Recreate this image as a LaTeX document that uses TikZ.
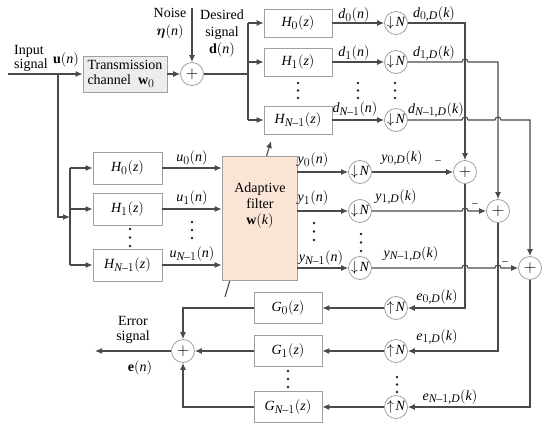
\documentclass[tikz,border=0pt]{standalone}
\usepackage{amsmath}
\usepackage{fontspec}
\setmainfont{Liberation Serif}
\usepackage[italic]{mathastext}
\usetikzlibrary{arrows.meta,calc}
\definecolor{linec}{HTML}{4A4A4A}
\definecolor{boxc}{HTML}{A0A0A0}
\definecolor{peach}{HTML}{FBE4D5}
\definecolor{grayf}{HTML}{EDEDED}
\newcommand{\threedots}[3]{\fill[black!85] (#1,#2) circle (1.4) (#1,{#2+#3}) circle (1.4) (#1,{#2+2*#3}) circle (1.4);}
\begin{document}
\begin{tikzpicture}[x=1pt,y=-1pt,
 every node/.style={font=\fontsize{14}{16}\selectfont, text=black},
 conn/.style={draw=linec,line width=1.1pt},
 arr/.style={conn,-{Latex[length=7pt,width=6pt]}},
 blk/.style={draw=boxc,line width=0.8pt,minimum width=68pt,minimum height=28pt,inner sep=0pt},
 circ/.style={circle,draw=boxc,line width=0.8pt,minimum size=23pt,inner sep=0pt},
 sumc/.style={circ,font=\fontsize{19}{19}\selectfont},
 lbl/.style={inner sep=0pt}]
\useasboundingbox (0,0) rectangle (550,432);

% ---------- top ----------
\node[blk,fill=grayf,minimum width=84pt,minimum height=36pt,align=left,font=\fontsize{14}{15}\selectfont] (tc) at (125,74) {Transmission\\channel\ \ $\mathbf{w}_0$};
\node[sumc] (s0) at (192,74) {$+$};
\coordinate (in) at (8,74);
\coordinate (j0) at (58,74);
\coordinate (nz) at (192,8);
\coordinate (bd) at (248,74);
\draw[arr] (in) -- (tc.west);
\draw[arr] (nz) -- (s0.north);
\draw[arr] (tc.east) -- (s0.west);
\draw[conn] (s0.east) -- (bd);

\node[blk] (hu0) at (298,23) {$H_0(z)$};
\node[blk] (hu1) at (298,62) {$H_1(z)$};
\node[blk] (hu2) at (298,120) {$H_{N-1}(z)$};
\draw[conn] (hu0.west -| bd) -- (hu2.west -| bd);
\draw[arr] (hu0.west -| bd) -- (hu0.west);
\draw[arr] (hu1.west -| bd) -- (hu1.west);
\draw[arr] (hu2.west -| bd) -- (hu2.west);

\node[circ] (dn0) at (396,23) {$\downarrow\!N$};
\node[circ] (dn1) at (396,62) {$\downarrow\!N$};
\node[circ] (dn2) at (396,120) {$\downarrow\!N$};
\draw[arr] (hu0) -- (dn0);
\draw[arr] (hu1) -- (dn1);
\draw[arr] (hu2) -- (dn2);

% sums
\node[sumc] (s1) at (465,172) {$+$};
\node[sumc] (s2) at (498,211) {$+$};
\node[sumc] (s3) at (530,268) {$+$};

\draw[arr] (dn0.east) -| (s1.north);
\draw[arr] (dn1.east) -- ($(dn1.east -| s1)+(-3,0)$) arc[start angle=180,end angle=360,radius=3] -| (s2.north);
\draw[arr] (dn2.east) -- ($(dn2.east -| s1)+(-3,0)$) arc[start angle=180,end angle=360,radius=3]
   -- ($(dn2.east -| s2)+(-3,0)$) arc[start angle=180,end angle=360,radius=3] -| (s3.north);

% ---------- middle ----------
\coordinate (bl) at (70,217);
\draw[arr] (j0) |- (bl);
\node[blk,minimum width=69pt,minimum height=32pt] (hl0) at (127.5,168) {$H_0(z)$};
\node[blk,minimum width=69pt,minimum height=32pt] (hl1) at (127.5,209) {$H_1(z)$};
\node[blk,minimum width=69pt,minimum height=32pt] (hl2) at (127.5,265) {$H_{N-1}(z)$};
\draw[conn] (hl0.west -| bl) -- (hl2.west -| bl);
\draw[arr] (hl0.west -| bl) -- (hl0.west);
\draw[arr] (hl1.west -| bl) -- (hl1.west);
\draw[arr] (hl2.west -| bl) -- (hl2.west);

\coordinate (da) at (225,297);
\coordinate (db) at (271,141);
\draw[arr] (da) -- (db);
\node[draw=boxc,line width=0.8pt,fill=peach,minimum width=75pt,minimum height=124pt,inner sep=0pt] (af) at (259.5,218) {};
\node[align=center,font=\fontsize{14}{16}\selectfont] (aft) at (260,205) {Adaptive\\filter\\$\mathbf{w}(k)$};

\draw[arr] (hl0.east) -- (hl0.east -| af.west);
\draw[arr] (hl1.east) -- (hl1.east -| af.west);
\draw[arr] (hl2.east) -- (hl2.east -| af.west);

\node[circ] (dd0) at (360,172) {$\downarrow\!N$};
\node[circ] (dd1) at (360,211) {$\downarrow\!N$};
\node[circ] (dd2) at (360,268) {$\downarrow\!N$};
\draw[arr] (af.east |- dd0) -- (dd0.west);
\draw[arr] (af.east |- dd1) -- (dd1.west);
\draw[arr] (af.east |- dd2) -- (dd2.west);

\draw[arr] (dd0.east) -- (s1.west);
\draw[arr] (dd1.east) -- ($(dd1.east -| s1)+(-3,0)$) arc[start angle=180,end angle=360,radius=3] -- (s2.west);
\draw[arr] (dd2.east) -- ($(dd2.east -| s1)+(-3,0)$) arc[start angle=180,end angle=360,radius=3]
   -- ($(dd2.east -| s2)+(-3,0)$) arc[start angle=180,end angle=360,radius=3] -- (s3.west);

% ---------- bottom ----------
\node[circ] (up0) at (396,308) {$\uparrow\!N$};
\node[circ] (up1) at (396,351) {$\uparrow\!N$};
\node[circ] (up2) at (396,407) {$\uparrow\!N$};
\draw[arr] (s1.south) |- (up0.east);
\draw[arr] (s2.south) |- (up1.east);
\draw[arr] (s3.south) |- (up2.east);

\node[blk,minimum height=31pt] (g0) at (288,308) {$G_0(z)$};
\node[blk,minimum height=31pt] (g1) at (288,351) {$G_1(z)$};
\node[blk,minimum height=31pt] (g2) at (288,407) {$G_{N-1}(z)$};
\draw[arr] (up0.west) -- (g0.east);
\draw[arr] (up1.west) -- (g1.east);
\draw[arr] (up2.west) -- (g2.east);

\node[sumc] (se) at (183,351) {$+$};
\draw[arr] (g0.west) -| (se.north);
\draw[arr] (g1.west) -- (se.east);
\draw[arr] (g2.west) -| (se.south);
\coordinate (out) at (95,351);
\draw[arr] (se.west) -- (out);

% ---------- labels ----------
\node[lbl,anchor=west,align=left,font=\fontsize{14}{14}\selectfont] (lin) at (14,58) {Input\\signal};
\node[lbl] (lu) at (66,60) {$\mathbf{u}(n)$};
\node[lbl,align=center,font=\fontsize{14}{18}\selectfont] (lnz) at (170,24) {Noise\\$\boldsymbol{\eta}(n)$};
\node[lbl,align=center,font=\fontsize{14}{17}\selectfont] (lds) at (222,33) {Desired\\signal\\$\mathbf{d}(n)$};

\node[lbl] at (354,15) {$d_0(n)$};
\node[lbl] at (354,53) {$d_1(n)$};
\node[lbl] at (355,109) {$d_{N-1}(n)$};
\node[lbl] at (434,14) {$d_{0,D}(k)$};
\node[lbl] at (434,53) {$d_{1,D}(k)$};
\node[lbl] at (436,110) {$d_{N-1,D}(k)$};

\node[lbl] at (192,158) {$u_0(n)$};
\node[lbl] at (192,198) {$u_1(n)$};
\node[lbl] at (192,254) {$u_{N-1}(n)$};

\node[lbl] at (313,160) {$y_0(n)$};
\node[lbl] at (313,198) {$y_1(n)$};
\node[lbl] at (321,258) {$y_{N-1}(n)$};
\node[lbl] at (402,158) {$y_{0,D}(k)$};
\node[lbl] at (396,197) {$y_{1,D}(k)$};
\node[lbl] at (411,254) {$y_{N-1,D}(k)$};

\node[lbl,font=\fontsize{11}{11}\selectfont] at (438,162) {$-$};
\node[lbl,font=\fontsize{11}{11}\selectfont] at (475,205) {$-$};
\node[lbl,font=\fontsize{11}{11}\selectfont] at (505,263) {$-$};

\node[lbl] at (437,297) {$e_{0,D}(k)$};
\node[lbl] at (437,337) {$e_{1,D}(k)$};
\node[lbl] at (450,397) {$e_{N-1,D}(k)$};

\node[lbl,align=center,font=\fontsize{14}{15}\selectfont] (lerr) at (133,330) {Error\\signal};
\node[lbl] (le) at (140,368) {$\mathbf{e}(n)$};

% ---------- dots ----------
\threedots{298}{83}{7.5}
\threedots{358}{83}{7.5}
\threedots{395}{83}{7.5}
\threedots{130}{229}{8.5}
\threedots{192}{222}{8}
\threedots{314}{223}{8.5}
\threedots{361}{234}{8.5}
\threedots{288}{371}{8}
\threedots{397}{377}{7.5}
\end{tikzpicture}
\end{document}
